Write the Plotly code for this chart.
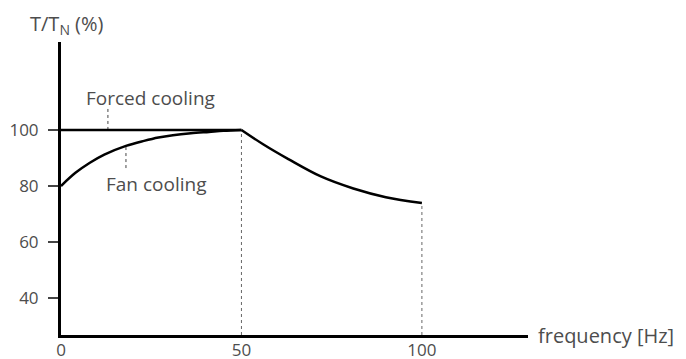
import plotly.graph_objects as go

# ---- data ----
forced_x = [0, 50]
forced_y = [100, 100]

fan_x = [0, 4, 8, 12, 18, 23, 27, 31, 36, 41, 45, 50]
fan_y = [80, 84.7, 88.3, 91.2, 94.3, 96.1, 97.3, 98.1, 98.8, 99.3, 99.7, 100]

derate_x = [50, 56, 63, 72, 81, 90, 100]
derate_y = [100, 94.9, 89.6, 83.4, 79.1, 76.0, 73.9]

y_ticks = [40, 60, 80, 100]
x_ticks = [0, 50, 100]

X_RANGE = [0, 129.4]
Y_RANGE = [26.8, 131.4]

TEXT = "#4d4d4d"
FONT = "Open Sans"

fig = go.Figure()

# dotted guide lines
fig.add_trace(go.Scatter(x=[50, 50], y=[Y_RANGE[0], 100], mode="lines",
                         line=dict(color="#666", width=1, dash="dot"), hoverinfo="skip"))
fig.add_trace(go.Scatter(x=[100, 100], y=[Y_RANGE[0], derate_y[-1]], mode="lines",
                         line=dict(color="#666", width=1, dash="dot"), hoverinfo="skip"))
# leader lines for labels
fig.add_trace(go.Scatter(x=[13.0, 13.0], y=[100, 108.2], mode="lines",
                         line=dict(color="#444", width=1, dash="dot"), hoverinfo="skip"))
fig.add_trace(go.Scatter(x=[18.0, 18.0], y=[86.4, 94.1], mode="lines",
                         line=dict(color="#444", width=1, dash="dot"), hoverinfo="skip"))

# curves
fig.add_trace(go.Scatter(x=forced_x, y=forced_y, mode="lines",
                         line=dict(color="black", width=2.5), name="Forced cooling"))
fig.add_trace(go.Scatter(x=fan_x, y=fan_y, mode="lines", line_shape="spline",
                         line=dict(color="black", width=2.5), name="Fan cooling"))
fig.add_trace(go.Scatter(x=derate_x, y=derate_y, mode="lines", line_shape="spline",
                         line=dict(color="black", width=2.5), name="Derating"))

fig.add_annotation(x=24.7, y=111.4, text="Forced cooling", showarrow=False,
                   font=dict(family=FONT, size=19, color=TEXT))
fig.add_annotation(x=26.2, y=80.7, text="Fan cooling", showarrow=False,
                   font=dict(family=FONT, size=19, color=TEXT))
fig.add_annotation(xref="paper", yref="paper", x=1, y=0, xshift=8, yshift=0,
                   xanchor="left", yanchor="middle", text="frequency [Hz]",
                   showarrow=False, font=dict(family=FONT, size=20, color=TEXT))
fig.add_annotation(xref="paper", yref="paper", x=-0.0707, y=1.061,
                   xanchor="left", yanchor="middle", text="T/T<sub>N</sub> (%)",
                   showarrow=False, font=dict(family=FONT, size=20, color=TEXT))

fig.update_layout(
    width=686, height=359,
    margin=dict(l=61, r=158, t=42, b=24),
    paper_bgcolor="white", plot_bgcolor="white",
    showlegend=False,
    font=dict(family=FONT, color=TEXT),
)
fig.update_xaxes(range=X_RANGE, tickvals=x_ticks, showgrid=False, zeroline=False,
                 showline=True, linecolor="black", linewidth=3, ticks="",
                 ticklabelstandoff=-2,
                 tickfont=dict(family=FONT, size=17, color=TEXT), automargin=False)
fig.update_yaxes(range=Y_RANGE, tickvals=y_ticks, showgrid=False, zeroline=False,
                 showline=True, linecolor="black", linewidth=3, ticks="outside",
                 ticklen=10, tickwidth=2, tickcolor="#444", ticklabelstandoff=6,
                 tickfont=dict(family=FONT, size=17, color=TEXT), automargin=False)

fig.write_html("out.html", config={"displayModeBar": False},
               post_script="document.body.style.margin='0';")
